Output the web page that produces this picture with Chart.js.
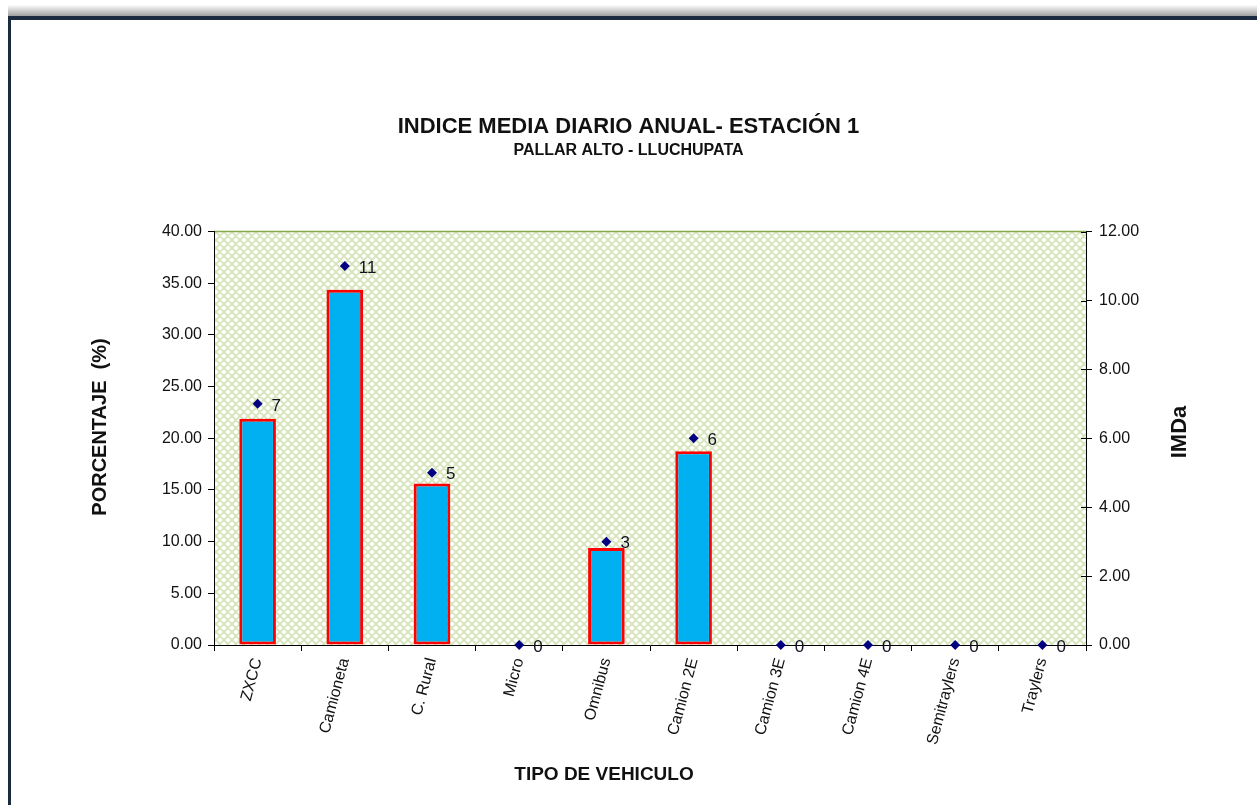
<!DOCTYPE html>
<html>
<head>
<meta charset="utf-8">
<title>IMDa - Estacion 1</title>
<script src="https://cdn.jsdelivr.net/npm/chart.js@4.4.1/dist/chart.umd.min.js"></script>
<style>
html, body { margin: 0; padding: 0; background: #fff; }
#wrap { position: relative; width: 1257px; height: 805px; overflow: hidden; }
#myChart { position: absolute; left: 0; top: 0; }
.shade { position: absolute; left: 8px; top: 5px; width: 1260px; height: 11px; background: linear-gradient(#fdfdfd, #a0a0a0); }
.frame { position: absolute; left: 8px; top: 16px; width: 1270px; height: 800px; box-sizing: border-box;
         border-top: 4px solid #1b2a3f; border-left: 3px solid #1b2a3f; pointer-events: none; }
</style>
</head>
<body>
<div id="wrap">
  <canvas id="myChart" width="1257" height="805"></canvas>
  <div class="shade"></div>
  <div class="frame"></div>
</div>
<script>
// datos
var categories = ["ZXCC", "Camioneta", "C. Rural", "Micro", "Omnibus", "Camion 2E", "Camion 3E", "Camion 4E", "Semitraylers", "Traylers"];
var porcentaje = [21.88, 34.38, 15.63, 0, 9.38, 18.75, 0, 0, 0, 0];
var imda = [7, 11, 5, 0, 3, 6, 0, 0, 0, 0];

var FONT = "'Liberation Sans', Arial, sans-serif";
Chart.defaults.font.family = FONT;

function makePattern() {
    var pc = document.createElement("canvas");
    pc.width = 8;
    pc.height = 8;
    var p = pc.getContext("2d");
    p.fillStyle = "#ffffff";
    p.fillRect(0, 0, 8, 8);
    p.strokeStyle = "#d5e4b9";
    p.lineWidth = 1.8;
    p.beginPath();
    for (var o = -8; o <= 8; o += 8) {
        p.moveTo(o, 0); p.lineTo(o + 8, 8);
        p.moveTo(o + 8, 0); p.lineTo(o, 8);
    }
    p.stroke();
    return pc;
}

var plotBackground = {
    id: "plotBackground",
    beforeDraw: function (chart) {
        var ctx = chart.ctx, a = chart.chartArea;
        ctx.save();
        ctx.fillStyle = ctx.createPattern(makePattern(), "repeat");
        ctx.fillRect(a.left, a.top, a.right - a.left, a.bottom - a.top);
        ctx.strokeStyle = "#86a84a";
        ctx.lineWidth = 1.5;
        ctx.beginPath();
        ctx.moveTo(a.left, a.top);
        ctx.lineTo(a.right, a.top);
        ctx.stroke();
        ctx.restore();
    },
    afterDraw: function (chart) {
        // marcas interiores del eje derecho
        var ctx = chart.ctx, a = chart.chartArea, s = chart.scales.y2;
        ctx.save();
        ctx.strokeStyle = "#000";
        ctx.lineWidth = 1;
        s.ticks.forEach(function (t) {
            var y = Math.round(s.getPixelForValue(t.value)) + 0.5;
            ctx.beginPath();
            ctx.moveTo(a.right - 5, y);
            ctx.lineTo(a.right, y);
            ctx.stroke();
        });
        ctx.restore();
    }
};

var pointLabels = {
    id: "pointLabels",
    afterDatasetsDraw: function (chart) {
        var ctx = chart.ctx;
        var meta = chart.getDatasetMeta(1);
        ctx.save();
        ctx.font = "17px " + FONT;
        ctx.fillStyle = "#111122";
        ctx.textAlign = "left";
        ctx.textBaseline = "middle";
        meta.data.forEach(function (pt, i) {
            ctx.fillText(String(imda[i]), pt.x + 14, pt.y + 2);
        });
        ctx.restore();
    }
};

var axisTitles = {
    id: "axisTitles",
    afterDraw: function (chart) {
        var ctx = chart.ctx;
        ctx.save();
        ctx.fillStyle = "#111";
        ctx.textAlign = "center";
        ctx.textBaseline = "middle";
        ctx.font = "bold 20px " + FONT;
        ctx.translate(100, 427);
        ctx.rotate(-Math.PI / 2);
        ctx.fillText("PORCENTAJE  (%)", 0, 0);
        ctx.restore();

        ctx.save();
        ctx.fillStyle = "#111";
        ctx.textAlign = "center";
        ctx.textBaseline = "middle";
        ctx.font = "bold 22px " + FONT;
        ctx.translate(1180, 432);
        ctx.rotate(-Math.PI / 2);
        ctx.fillText("IMDa", 0, 0);
        ctx.restore();

        ctx.save();
        ctx.fillStyle = "#111";
        ctx.textAlign = "center";
        ctx.textBaseline = "middle";
        ctx.font = "bold 19px " + FONT;
        ctx.fillText("TIPO DE VEHICULO", 604, 775);
        ctx.restore();
    }
};

var ctx = document.getElementById("myChart").getContext("2d");
var myChart = new Chart(ctx, {
    type: "bar",
    data: {
        labels: categories,
        datasets: [
            {
                type: "bar",
                label: "Porcentaje",
                data: porcentaje,
                yAxisID: "y",
                backgroundColor: "#00b0f0",
                borderColor: "#ff0000",
                borderWidth: 3,
                borderSkipped: false,
                barPercentage: 0.42,
                categoryPercentage: 1,
                order: 1
            },
            {
                type: "line",
                label: "IMDa",
                data: imda,
                yAxisID: "y2",
                showLine: false,
                pointStyle: "rectRot",
                pointRadius: 5,
                backgroundColor: "#000080",
                borderColor: "#000080",
                borderWidth: 0,
                clip: false,
                order: 0
            }
        ]
    },
    options: {
        responsive: false,
        animation: false,
        layout: { padding: 0 },
        plugins: {
            legend: { display: false },
            tooltip: { enabled: false },
            title: {
                display: true,
                text: "INDICE MEDIA DIARIO ANUAL- ESTACIÓN 1",
                color: "#111",
                font: { size: 22, weight: "bold" },
                padding: { top: 114, bottom: 0 }
            },
            subtitle: {
                display: true,
                text: "PALLAR ALTO - LLUCHUPATA",
                color: "#111",
                font: { size: 16, weight: "bold" },
                padding: { top: 1, bottom: 71 }
            }
        },
        scales: {
            x: {
                afterFit: function (scale) { scale.height = 160; },
                grid: { offset: true, drawOnChartArea: false, tickLength: 6, color: "#000" },
                border: { color: "#000", width: 1 },
                ticks: { color: "#111", font: { size: 16 }, maxRotation: 75, minRotation: 75, padding: 5 }
            },
            y: {
                position: "left",
                min: 0,
                max: 40,
                afterFit: function (scale) { scale.width = 214; },
                grid: { drawOnChartArea: false, tickLength: 6, color: "#000" },
                border: { color: "#000", width: 1 },
                ticks: {
                    stepSize: 5,
                    color: "#111",
                    font: { size: 16 },
                    padding: 6,
                    callback: function (v) { return v.toFixed(2); }
                }
            },
            y2: {
                position: "right",
                min: 0,
                max: 12,
                afterFit: function (scale) { scale.width = 171; },
                grid: { drawOnChartArea: false, tickLength: 6, color: "#000" },
                border: { color: "#000", width: 1 },
                ticks: {
                    stepSize: 2,
                    color: "#111",
                    font: { size: 16 },
                    padding: 7,
                    callback: function (v) { return v.toFixed(2); }
                }
            }
        }
    },
    plugins: [plotBackground, pointLabels, axisTitles]
});
</script>
</body>
</html>
